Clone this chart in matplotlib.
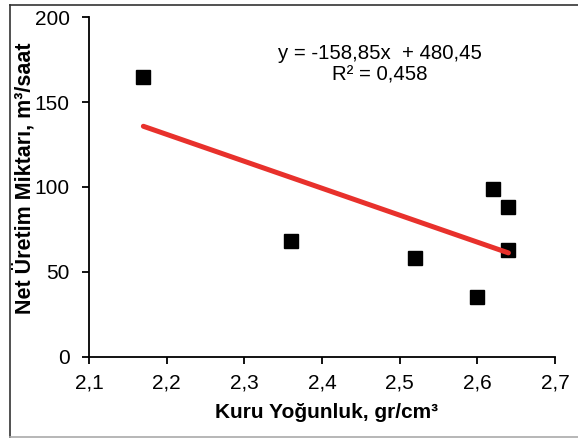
import matplotlib
matplotlib.use("Agg")
import matplotlib.pyplot as plt
from matplotlib.lines import Line2D
import numpy as np

plt.rcParams['font.family'] = ['Liberation Sans', 'DejaVu Sans']

x_density = [2.17, 2.36, 2.52, 2.60, 2.62, 2.64, 2.64]
y_prod = [165, 68, 58, 35, 99, 88, 63]
slope = -158.85
intercept = 480.45
x_ticks = [2.1, 2.2, 2.3, 2.4, 2.5, 2.6, 2.7]
x_ticklabels = ['2,1', '2,2', '2,3', '2,4', '2,5', '2,6', '2,7']
y_ticks = [0, 50, 100, 150, 200]

W, H = 578, 438
fig = plt.figure(figsize=(W / 100, H / 100), dpi=100)
ax = fig.add_axes([89 / W, 1 - 356.5 / H, 466 / W, 339.2 / H])

ax.plot(x_density, y_prod, linestyle='none', marker='s', markersize=10.5,
        color='black', zorder=3)
xf = np.array([min(x_density), max(x_density)])
ax.plot(xf, slope * xf + intercept, color='#E8312C', linewidth=3.6,
        solid_capstyle='round', zorder=4)

ax.set_xlim(2.1, 2.7)
ax.set_ylim(0, 200)
ax.set_xticks(x_ticks)
ax.set_xticklabels(x_ticklabels)
ax.set_yticks(y_ticks)
for s in ['top', 'right']:
    ax.spines[s].set_visible(False)
for s in ['left', 'bottom']:
    ax.spines[s].set_linewidth(1.3)
ax.tick_params(axis='x', direction='out', length=5, width=1.3, labelsize=15, pad=7)
ax.tick_params(axis='y', direction='out', length=5, width=1.3, labelsize=15, pad=9)

ax.set_xlabel('Kuru Yoğunluk, gr/cm³', fontsize=15, fontweight='bold')
ax.set_ylabel('Net Üretim Miktarı, m³/saat', fontsize=15.5, fontweight='bold')
ax.xaxis.set_label_coords((327 - 89) / 466, 1 - (413 - 17.3) / 339.2)
ax.yaxis.set_label_coords((24 - 89) / 466, 1 - (178 - 17.3) / 339.2)
ax.xaxis.label.set_va('center')
ax.yaxis.label.set_va('center')

ax.text((380 - 89) / 466, 1 - (64.3 - 17.3) / 339.2,
        'y = -158,85x  + 480,45\nR² = 0,458', transform=ax.transAxes,
        ha='center', va='center', fontsize=14.7, linespacing=1.17)

def px(x, y):
    return x / W, 1 - y / H

for (x0, y0), (x1, y1), c in [((9.5, 5), (578, 5), '#333333'),
                              ((9.5, 5), (9.5, 438), '#333333'),
                              ((9.5, 437), (578, 437), '#aaaaaa')]:
    a, b = px(x0, y0)
    cc, d = px(x1, y1)
    fig.add_artist(Line2D([a, cc], [b, d], transform=fig.transFigure,
                          color=c, linewidth=1.2))

fig.savefig('out.png', dpi=100)
